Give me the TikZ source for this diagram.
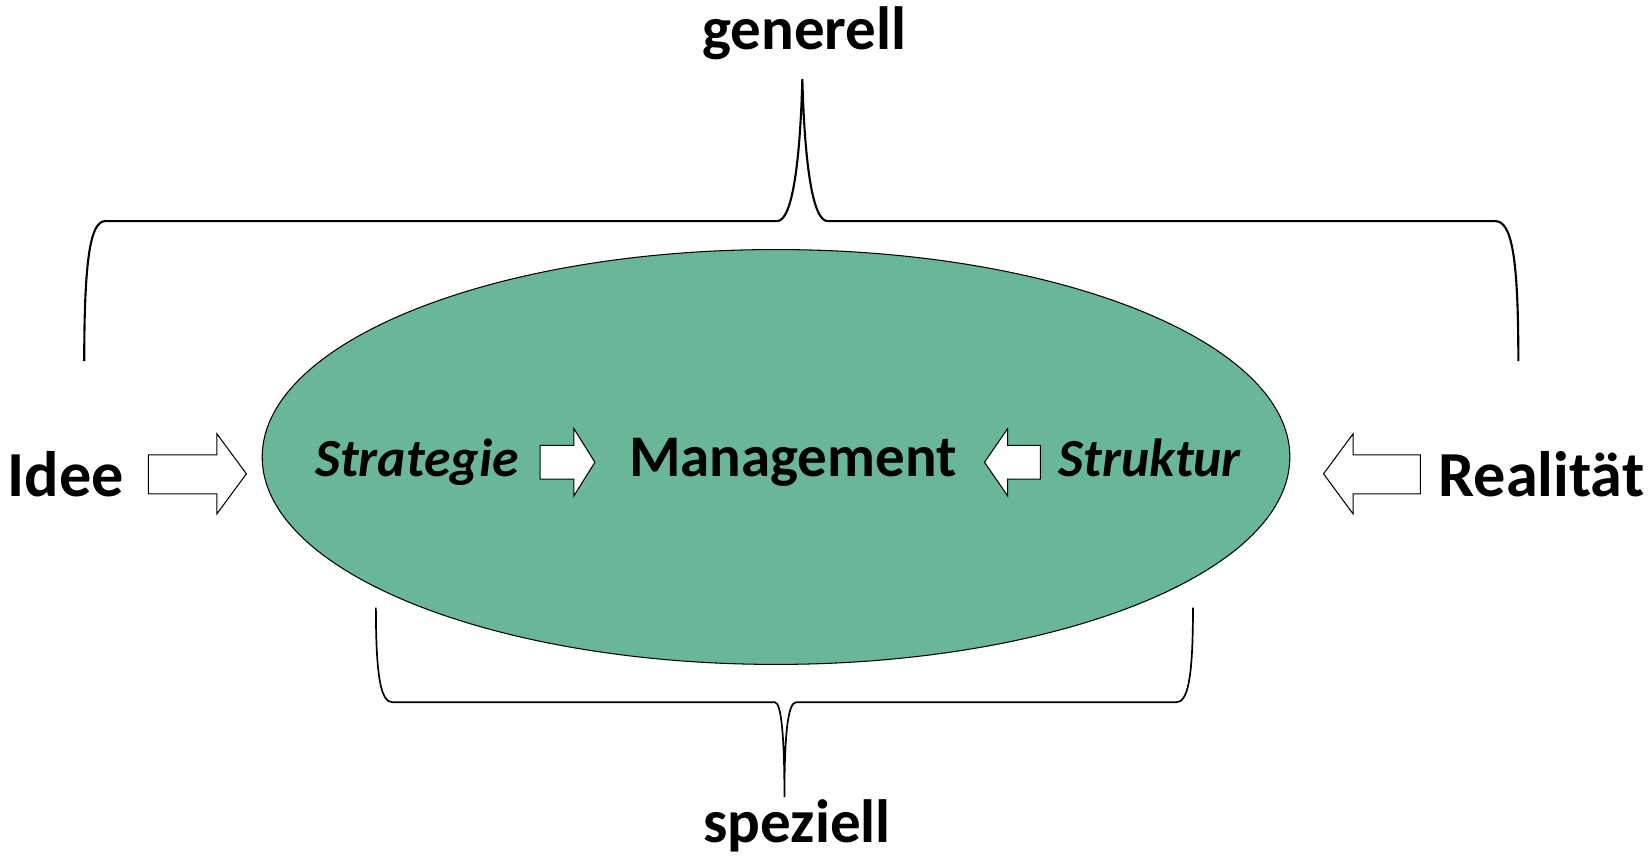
\documentclass[tikz,border=0pt]{standalone}
\usepackage{fontspec}
\setmainfont{Carlito}
\usetikzlibrary{calc,shapes.geometric}
\definecolor{ellgreen}{RGB}{106,183,151}
\tikzset{
  brace/.style={draw=black, line width=1pt},
  blockarrow/.style={draw=black, fill=white, line width=0.5pt, line join=miter},
  bigtxt/.style={font=\fontsize{29}{34}\selectfont\bfseries, inner sep=0pt},
  sidetxt/.style={font=\fontsize{30.5}{35}\selectfont\bfseries, inner sep=0pt},
  midtxt/.style={font=\fontsize{28}{33}\selectfont\bfseries, inner sep=0pt},
  ittxt/.style={font=\fontsize{25.5}{30}\selectfont\bfseries\itshape, inner sep=0pt},
}
\begin{document}
\begin{tikzpicture}[x=0.5pt,y=-0.5pt]
\useasboundingbox (0,0) rectangle (1568,814);
% ellipse
\node (ell) [draw=black, line width=0.5pt, fill=ellgreen, ellipse, inner sep=0pt, minimum width=488pt, minimum height=197pt] at (737,434) {};
% texts
\node (gen) [bigtxt, anchor=base] at (764,47) {generell};
\node (spe) [bigtxt, anchor=base] at (757,800) {speziell};
\node (idee) [sidetxt, anchor=base west] at (7,472) {Idee};
\node (real) [sidetxt, anchor=base east] at (1562,472) {Realität};
\node (man) [midtxt, anchor=base] at (753,453) {Management};
\node (str) [ittxt, anchor=base east] at (493,453) {Strategie};
\node (stk) [ittxt, anchor=base west] at (1005,453) {Struktur};
% top brace
\coordinate (tl) at (80,343);
\coordinate (tr) at (1442,343);
\coordinate (tp) at (762,75);
\draw[brace] (tl) .. controls (80,245) and (86,210) .. (100,210) -- (738,210)
  .. controls (753,210) and (760,150) .. (tp)
  .. controls (764,150) and (771,210) .. (786,210) -- (1420,210)
  .. controls (1436,210) and (1442,245) .. (tr);
% bottom brace
\coordinate (bl) at (357,577);
\coordinate (br) at (1133,577);
\coordinate (bp) at (745,757);
\draw[brace, line width=0.8pt] (bl) .. controls (357,645) and (362,667) .. (373,667) -- (736,667)
  .. controls (742,667) and (745,700) .. (bp)
  .. controls (745,700) and (748,667) .. (756,667) -- (1117,667)
  .. controls (1128,667) and (1133,645) .. (br);
% block arrows
\draw[blockarrow] (141,432) -- (206,432) -- (206,412) -- (234,450) -- (206,488) -- (206,469) -- (141,469) -- cycle;
\draw[blockarrow] (1349,432) -- (1285,432) -- (1285,412) -- (1257,450) -- (1285,488) -- (1285,469) -- (1349,469) -- cycle;
\draw[blockarrow] (513,423) -- (545,423) -- (545,407) -- (565,439) -- (545,471) -- (545,455) -- (513,455) -- cycle;
\draw[blockarrow] (988,423) -- (957,423) -- (957,407) -- (935,439) -- (957,471) -- (957,455) -- (988,455) -- cycle;
\end{tikzpicture}
\end{document}
